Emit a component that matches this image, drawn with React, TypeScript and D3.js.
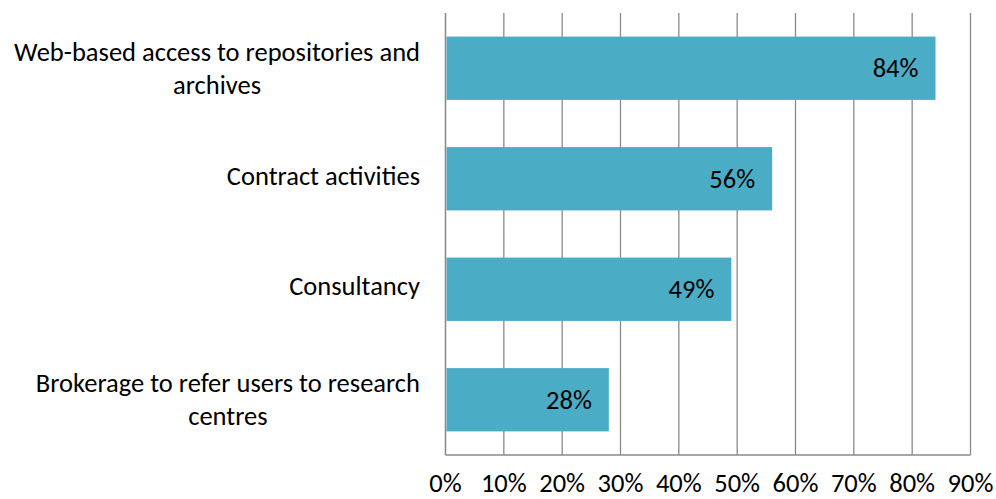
import React, { useLayoutEffect, useRef, useState } from "react";
import * as d3 from "d3";

const categories: string[][] = [
  ["Web-based access to repositories and", "archives"],
  ["Contract activities"],
  ["Consultancy"],
  ["Brokerage to refer users to research", "centres"],
];
const values: number[] = [84, 56, 49, 28];
const ticks: number[] = [0, 10, 20, 30, 40, 50, 60, 70, 80, 90];

const W = 996;
const H = 499;
const FONT = "Carlito, Calibri, Lato, 'Liberation Sans', sans-serif";
const FS = 26.5;
const LABEL_RIGHT = 420;

export default function App() {
  const firstLineRefs = useRef<(SVGTextElement | null)[]>([]);
  const [widths, setWidths] = useState<number[]>(categories.map(() => 0));

  useLayoutEffect(() => {
    const w = categories.map((_, i) => {
      const el = firstLineRefs.current[i];
      return el ? el.getComputedTextLength() : 0;
    });
    setWidths(w);
  }, []);

  const x = d3.scaleLinear().domain([0, 90]).range([445.5, 970.5]);
  const y = d3
    .scaleBand<number>()
    .domain(d3.range(categories.length))
    .range([13, 455])
    .paddingInner(0.427)
    .paddingOuter(0.2135);
  const bw = y.bandwidth();
  const grid = "#8a8a8a";
  return (
    <div style={{ position: "absolute", left: 0, top: 0 }}>
      <svg width={W} height={H} style={{ display: "block", fontFamily: FONT }}>
        <rect width={W} height={H} fill="#fff" />
        {ticks.map((t) => (
          <line
            key={"g" + t}
            x1={x(t)}
            x2={x(t)}
            y1={13}
            y2={455}
            stroke={grid}
            strokeWidth={1.3}
          />
        ))}
        {values.map((v, i) => (
          <rect
            key={"b" + i}
            x={x(0) + 1}
            y={y(i)!}
            width={x(v) - x(0) - 1}
            height={bw}
            fill="#4BACC6"
          />
        ))}
        <line x1={x(0)} x2={x(0)} y1={13} y2={455} stroke={grid} strokeWidth={1.3} />
        <line x1={x(0)} x2={x(90)} y1={455} y2={455} stroke={grid} strokeWidth={1.3} />
        {values.map((v, i) => (
          <text
            key={"l" + i}
            x={x(v) - 17}
            y={y(i)! + bw / 2 + 9}
            textAnchor="end"
            fontSize={FS}
            fill="#000"
          >
            {v + "%"}
          </text>
        ))}
        {categories.map((lines, i) => {
          const c = y(i)! + bw / 2;
          const offs = lines.length === 1 ? [6] : [-7.5, 25.3];
          const center = LABEL_RIGHT - widths[i] / 2;
          return (
            <g key={"c" + i}>
              {lines.map((ln, j) => (
                <text
                  key={j}
                  ref={j === 0 ? (el) => { firstLineRefs.current[i] = el; } : undefined}
                  x={j === 0 ? LABEL_RIGHT : center}
                  y={c + offs[j]}
                  textAnchor={j === 0 ? "end" : "middle"}
                  fontSize={FS}
                  fill="#000"
                >
                  {ln}
                </text>
              ))}
            </g>
          );
        })}
        {ticks.map((t) => (
          <text
            key={"t" + t}
            x={x(t)}
            y={492}
            textAnchor="middle"
            fontSize={FS}
            fill="#000"
          >
            {t + "%"}
          </text>
        ))}
      </svg>
    </div>
  );
}
